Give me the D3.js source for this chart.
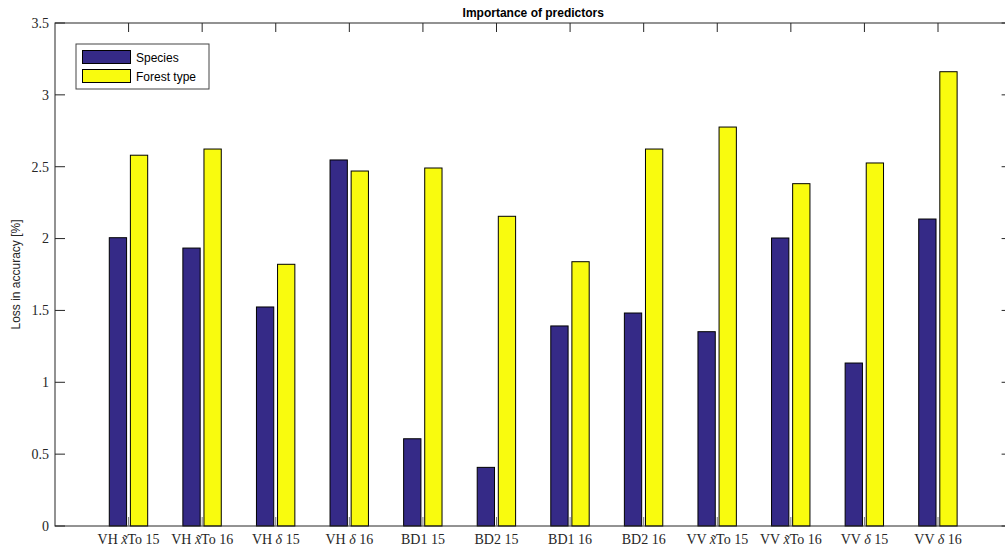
<!DOCTYPE html>
<html>
<head>
<meta charset="utf-8">
<script src="https://cdn.jsdelivr.net/npm/d3@7"></script>
<style>
  html, body { margin: 0; padding: 0; background: #fff; }
  svg { display: block; }
</style>
</head>
<body>
<svg id="chart" width="1005" height="549"></svg>
<script>
// Predictor labels: [prefix, math symbol (italic), suffix]
const predictors = [
  ["VH ", "x\u0303", "To 15"],
  ["VH ", "x\u0303", "To 16"],
  ["VH ", "\u03b4", " 15"],
  ["VH ", "\u03b4", " 16"],
  ["BD1 15", "", ""],
  ["BD2 15", "", ""],
  ["BD1 16", "", ""],
  ["BD2 16", "", ""],
  ["VV ", "x\u0303", "To 15"],
  ["VV ", "x\u0303", "To 16"],
  ["VV ", "\u03b4", " 15"],
  ["VV ", "\u03b4", " 16"]
];
const seriesNames = ["Species", "Forest type"];
const speciesLoss    = [2.006, 1.934, 1.524, 2.547, 0.607, 0.408, 1.392, 1.482, 1.352, 2.004, 1.134, 2.136];
const forestTypeLoss = [2.580, 2.623, 1.821, 2.470, 2.491, 2.155, 1.839, 2.623, 2.776, 2.382, 2.526, 3.161];
const yTicks = [0, 0.5, 1, 1.5, 2, 2.5, 3, 3.5];
const colors = ["#352a87", "#f9fb0e"];

const svg = d3.select("#chart");
const plotLeft = 55, plotRight = 1011.6, plotTop = 23, plotBottom = 526;

const x = d3.scaleLinear().domain([0, predictors.length + 1]).range([plotLeft, plotRight]);
const y = d3.scaleLinear().domain([0, 3.5]).range([plotBottom, plotTop]);
const inner = d3.scaleBand().domain(seriesNames).range([-19.3, 19.1]).paddingInner(0.18);

const rows = predictors.map((p, i) => ({
  idx: i + 1,
  label: p,
  values: [speciesLoss[i], forestTypeLoss[i]]
}));

const axisColor = "#262626";
const tickFont = "'Liberation Serif', 'DejaVu Serif', serif";
const sansFont = "'Liberation Sans', Arial, Helvetica, sans-serif";

// Bars
const groups = svg.append("g").selectAll("g").data(rows).join("g")
  .attr("transform", d => `translate(${x(d.idx)},0)`);
groups.selectAll("rect")
  .data(d => d.values.map((v, k) => ({ v, k })))
  .join("rect")
  .attr("x", d => inner(seriesNames[d.k]))
  .attr("width", inner.bandwidth())
  .attr("y", d => y(d.v))
  .attr("height", d => y(0) - y(d.v))
  .attr("fill", d => colors[d.k])
  .attr("stroke", "#000")
  .attr("stroke-width", 1);

// Axes box
const axes = svg.append("g");
axes.append("rect")
  .attr("x", plotLeft).attr("y", plotTop)
  .attr("width", plotRight - plotLeft).attr("height", plotBottom - plotTop)
  .attr("fill", "none").attr("stroke", axisColor).attr("stroke-width", 1);

// Y ticks (left and right, pointing inward)
yTicks.forEach(t => {
  axes.append("line").attr("x1", plotLeft).attr("x2", plotLeft + 10)
    .attr("y1", y(t)).attr("y2", y(t)).attr("stroke", axisColor);
  axes.append("line").attr("x1", plotRight).attr("x2", plotRight - 10)
    .attr("y1", y(t)).attr("y2", y(t)).attr("stroke", axisColor);
});
axes.selectAll("text.ytick").data(yTicks).join("text")
  .attr("class", "ytick")
  .attr("x", plotLeft - 6)
  .attr("y", d => y(d))
  .attr("dy", "0.35em")
  .attr("text-anchor", "end")
  .attr("font-family", tickFont)
  .attr("font-size", 14)
  .attr("fill", axisColor)
  .text(d => d);

// X ticks (bottom and top, pointing inward)
rows.forEach(r => {
  axes.append("line").attr("x1", x(r.idx)).attr("x2", x(r.idx))
    .attr("y1", plotBottom).attr("y2", plotBottom - 9).attr("stroke", "#777");
  axes.append("line").attr("x1", x(r.idx)).attr("x2", x(r.idx))
    .attr("y1", plotTop).attr("y2", plotTop + 9).attr("stroke", axisColor);
});
const xl = axes.selectAll("text.xtick").data(rows).join("text")
  .attr("class", "xtick")
  .attr("x", d => x(d.idx))
  .attr("y", 544)
  .attr("text-anchor", "middle")
  .attr("font-family", tickFont)
  .attr("font-size", 14)
  .attr("fill", axisColor);
xl.each(function(d) {
  const t = d3.select(this);
  t.append("tspan").text(d.label[0]);
  if (d.label[1]) t.append("tspan").attr("font-style", "italic").text(d.label[1]);
  if (d.label[2]) t.append("tspan").text(d.label[2]);
});

// Title
svg.append("text")
  .attr("x", (plotLeft + plotRight) / 2)
  .attr("y", 17)
  .attr("text-anchor", "middle")
  .attr("font-family", sansFont)
  .attr("font-weight", "bold")
  .attr("font-size", 12)
  .attr("fill", "#000")
  .text("Importance of predictors");

// Y label
svg.append("text")
  .attr("transform", `translate(20,${(plotTop + plotBottom) / 2}) rotate(-90)`)
  .attr("text-anchor", "middle")
  .attr("font-family", sansFont)
  .attr("font-size", 12)
  .attr("fill", axisColor)
  .text("Loss in accuracy [%]");

// Legend
const legend = svg.append("g").attr("transform", "translate(76,44)");
legend.append("rect")
  .attr("width", 133).attr("height", 45)
  .attr("fill", "#fff").attr("stroke", "#444").attr("stroke-width", 1);
seriesNames.forEach((name, k) => {
  legend.append("rect")
    .attr("x", 6.5).attr("y", 6.5 + k * 19)
    .attr("width", 48).attr("height", 13)
    .attr("fill", colors[k]).attr("stroke", "#000");
  legend.append("text")
    .attr("x", 60).attr("y", 14 + k * 19)
    .attr("dy", "0.35em")
    .attr("font-family", sansFont)
    .attr("font-size", 12)
    .attr("fill", "#000")
    .text(name);
});
</script>
</body>
</html>
